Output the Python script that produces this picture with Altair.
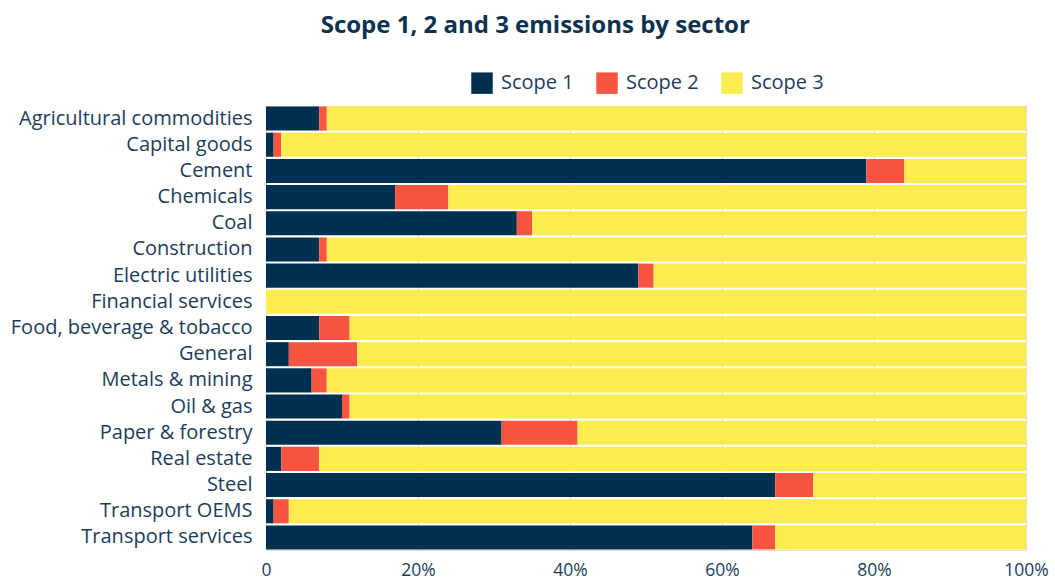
import altair as alt
import pandas as pd

sectors = ["Agricultural commodities", "Capital goods", "Cement", "Chemicals", "Coal",
           "Construction", "Electric utilities", "Financial services",
           "Food, beverage & tobacco", "General", "Metals & mining", "Oil & gas",
           "Paper & forestry", "Real estate", "Steel", "Transport OEMS", "Transport services"]
scope1 = [7, 1, 79, 17, 33, 7, 49, 0, 7, 3, 6, 10, 31, 2, 67, 1, 64]
scope2 = [1, 1, 5, 7, 2, 1, 2, 0, 4, 9, 2, 1, 10, 5, 5, 2, 3]
scope3 = [100 - a - b for a, b in zip(scope1, scope2)]
scopes = ["Scope 1", "Scope 2", "Scope 3"]
colors = ["#00304f", "#f75442", "#fdec50"]

rows = []
for i, s in enumerate(sectors):
    for k, (name, vals) in enumerate(zip(scopes, [scope1, scope2, scope3])):
        rows.append({"sector": s, "scope": name, "value": vals[i], "order": k})
df = pd.DataFrame(rows)

font = "Open Sans"
text_color = "#1c3d5a"

chart = alt.Chart(df).mark_bar().encode(
    y=alt.Y("sector:N", sort=sectors, title=None,
            scale=alt.Scale(paddingInner=0.08, paddingOuter=0.02),
            axis=alt.Axis(labelFontSize=20, labelColor=text_color, labelFont=font,
                          ticks=False, domain=False, labelPadding=14, labelLimit=400)),
    x=alt.X("value:Q", stack="zero", title=None,
            scale=alt.Scale(domain=[0, 100], nice=False),
            axis=alt.Axis(values=[0, 20, 40, 60, 80, 100],
                          labelExpr="datum.value == 0 ? '0' : datum.value + '%'",
                          labelFontSize=17.5, labelColor=text_color, labelFont=font,
                          ticks=False, domain=False, grid=True, gridColor="#dcdcdc",
                          labelPadding=11, labelFlush=False)),
    color=alt.Color("scope:N", sort=scopes,
                    scale=alt.Scale(domain=scopes, range=colors),
                    legend=alt.Legend(orient="none", legendX=205, legendY=-34,
                                      direction="horizontal", title=None,
                                      symbolType="square", symbolSize=460,
                                      symbolStrokeWidth=0, labelFontSize=20,
                                      labelColor=text_color, labelFont=font,
                                      columnPadding=22, labelOffset=8)),
    order=alt.Order("order:Q"),
).properties(
    width=760, height=444,
    title=alt.Title("Scope 1, 2 and 3 emissions by sector", fontSize=24, font=font,
                    fontWeight="bold", color="#0d3250", anchor="middle", frame="bounds",
                    offset=34, dx=6),
    padding={"left": 10, "top": 14, "right": 6, "bottom": 0},
).configure_view(stroke=None).configure(background="white")

chart.save("out.html", embed_options={"renderer": "svg", "actions": False})
